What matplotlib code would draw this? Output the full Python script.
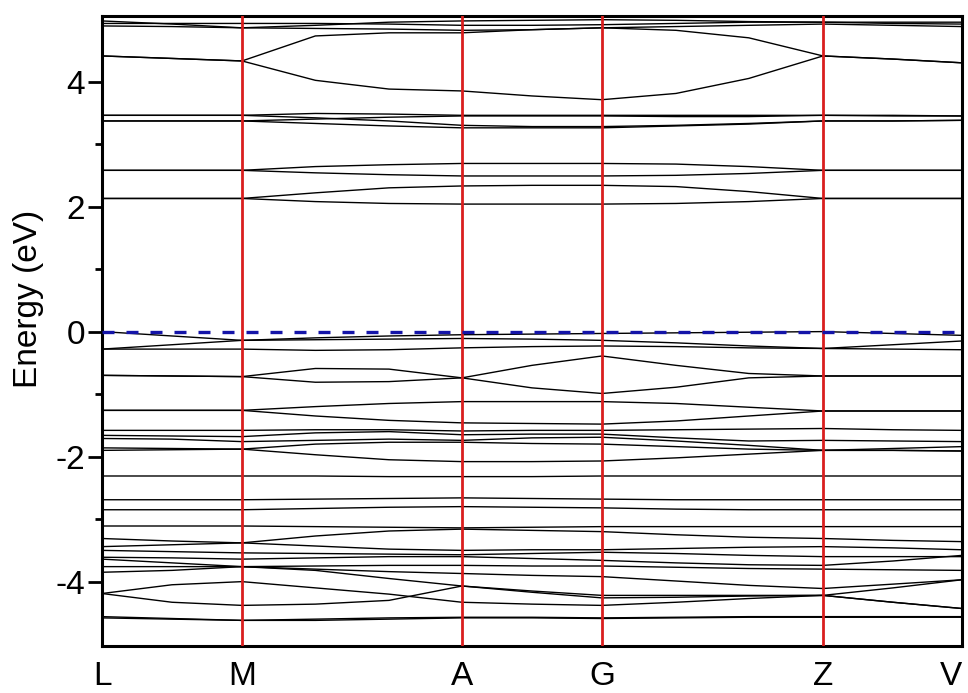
import matplotlib
matplotlib.use("Agg")
import matplotlib.pyplot as plt
import numpy as np

plt.rcParams['font.family'] = ['Liberation Sans', 'DejaVu Sans']

# high-symmetry points and k-path sample positions
hs_labels = ["L", "M", "A", "G", "Z", "V"]
hs_k = [0.0, 1.0, 2.571, 3.571, 5.15, 6.143]
k_path = [0.0, 0.5, 1.0, 1.524, 2.05, 2.571, 3.071, 3.571, 4.10, 4.62, 5.15, 5.65, 6.143]

# band energies (eV) at k_path points
bands = [
    [4.97, 4.92, 4.86, 4.90, 4.95, 4.97, 4.98, 4.99, 4.98, 4.96, 4.95, 4.95, 4.95],
    [4.93, 4.93, 4.93, 4.93, 4.92, 4.90, 4.90, 4.91, 4.93, 4.95, 4.95, 4.93, 4.92],
    [4.89, 4.88, 4.86, 4.85, 4.84, 4.82, 4.83, 4.86, 4.88, 4.90, 4.92, 4.90, 4.88],
    [4.41, 4.37, 4.33, 4.73, 4.78, 4.78, 4.83, 4.86, 4.82, 4.70, 4.41, 4.36, 4.30],
    [4.41, 4.37, 4.33, 4.02, 3.88, 3.85, 3.77, 3.71, 3.81, 4.05, 4.41, 4.36, 4.30],
    [3.46, 3.46, 3.46, 3.49, 3.48, 3.46, 3.46, 3.46, 3.46, 3.46, 3.46, 3.45, 3.45],
    [3.46, 3.46, 3.46, 3.42, 3.37, 3.30, 3.28, 3.28, 3.30, 3.33, 3.37, 3.37, 3.38],
    [3.37, 3.37, 3.37, 3.40, 3.43, 3.45, 3.45, 3.45, 3.44, 3.44, 3.46, 3.46, 3.45],
    [3.37, 3.37, 3.37, 3.33, 3.29, 3.26, 3.26, 3.26, 3.29, 3.32, 3.37, 3.37, 3.38],
    [2.58, 2.58, 2.58, 2.64, 2.67, 2.69, 2.69, 2.69, 2.68, 2.64, 2.58, 2.58, 2.58],
    [2.58, 2.58, 2.58, 2.54, 2.51, 2.49, 2.49, 2.49, 2.50, 2.53, 2.58, 2.58, 2.58],
    [2.13, 2.13, 2.13, 2.22, 2.30, 2.33, 2.34, 2.34, 2.32, 2.24, 2.13, 2.13, 2.13],
    [2.13, 2.13, 2.13, 2.08, 2.05, 2.04, 2.04, 2.04, 2.05, 2.08, 2.13, 2.13, 2.13],
    [0.00, -0.07, -0.14, -0.10, -0.07, -0.05, -0.04, -0.03, -0.02, -0.01, 0.00, -0.03, -0.06],
    [-0.28, -0.21, -0.14, -0.13, -0.12, -0.11, -0.12, -0.14, -0.18, -0.23, -0.27, -0.21, -0.15],
    [-0.28, -0.28, -0.28, -0.30, -0.29, -0.26, -0.24, -0.23, -0.24, -0.26, -0.27, -0.28, -0.29],
    [-0.70, -0.71, -0.72, -0.59, -0.60, -0.74, -0.54, -0.39, -0.54, -0.67, -0.71, -0.71, -0.71],
    [-0.70, -0.71, -0.72, -0.81, -0.80, -0.74, -0.90, -0.99, -0.89, -0.74, -0.71, -0.71, -0.71],
    [-1.26, -1.26, -1.26, -1.20, -1.15, -1.12, -1.12, -1.12, -1.15, -1.21, -1.27, -1.27, -1.27],
    [-1.26, -1.26, -1.26, -1.35, -1.42, -1.46, -1.47, -1.48, -1.43, -1.35, -1.27, -1.27, -1.27],
    [-1.58, -1.58, -1.58, -1.57, -1.57, -1.59, -1.58, -1.58, -1.57, -1.56, -1.55, -1.57, -1.58],
    [-1.66, -1.67, -1.68, -1.62, -1.60, -1.65, -1.64, -1.64, -1.70, -1.75, -1.74, -1.75, -1.76],
    [-1.71, -1.72, -1.76, -1.74, -1.72, -1.74, -1.70, -1.69, -1.75, -1.82, -1.90, -1.87, -1.84],
    [-1.86, -1.87, -1.88, -1.80, -1.77, -1.77, -1.79, -1.80, -1.84, -1.88, -1.90, -1.90, -1.91],
    [-1.90, -1.89, -1.88, -1.97, -2.05, -2.08, -2.08, -2.07, -2.02, -1.96, -1.90, -1.90, -1.91],
    [-2.31, -2.31, -2.31, -2.31, -2.32, -2.32, -2.32, -2.31, -2.31, -2.31, -2.31, -2.31, -2.31],
    [-2.69, -2.69, -2.69, -2.68, -2.67, -2.66, -2.67, -2.68, -2.69, -2.69, -2.69, -2.69, -2.69],
    [-2.85, -2.85, -2.85, -2.83, -2.81, -2.80, -2.81, -2.82, -2.84, -2.85, -2.85, -2.85, -2.85],
    [-3.11, -3.11, -3.11, -3.12, -3.13, -3.14, -3.13, -3.12, -3.12, -3.12, -3.12, -3.12, -3.12],
    [-3.31, -3.35, -3.38, -3.27, -3.19, -3.16, -3.18, -3.20, -3.25, -3.29, -3.31, -3.34, -3.36],
    [-3.44, -3.41, -3.38, -3.43, -3.48, -3.50, -3.49, -3.49, -3.47, -3.45, -3.44, -3.46, -3.49],
    [-3.50, -3.52, -3.54, -3.55, -3.56, -3.57, -3.55, -3.53, -3.55, -3.58, -3.60, -3.60, -3.60],
    [-3.61, -3.62, -3.64, -3.62, -3.60, -3.60, -3.63, -3.66, -3.70, -3.73, -3.74, -3.67, -3.58],
    [-3.64, -3.70, -3.76, -3.75, -3.74, -3.74, -3.75, -3.75, -3.77, -3.79, -3.80, -3.81, -3.82],
    [-3.76, -3.76, -3.76, -3.80, -3.84, -3.87, -3.90, -3.92, -3.99, -4.06, -4.11, -4.04, -3.97],
    [-3.85, -3.82, -3.76, -3.82, -3.95, -4.07, -4.17, -4.26, -4.25, -4.23, -4.22, -4.33, -4.43],
    [-4.19, -4.05, -4.00, -4.10, -4.20, -4.33, -4.36, -4.38, -4.33, -4.27, -4.22, -4.33, -4.43],
    [-4.19, -4.33, -4.38, -4.36, -4.30, -4.07, -4.15, -4.22, -4.22, -4.22, -4.22, -4.10, -3.97],
    [-4.56, -4.59, -4.62, -4.60, -4.58, -4.57, -4.57, -4.58, -4.57, -4.56, -4.56, -4.56, -4.56],
    [-4.58, -4.60, -4.62, -4.62, -4.60, -4.58, -4.58, -4.59, -4.58, -4.57, -4.57, -4.57, -4.57],
]

fermi_level = 0.0
y_ticks = [-4, -2, 0, 2, 4]
y_minor = [-3, -1, 1, 3]

fig = plt.figure(figsize=(9.68, 6.93), dpi=100)
ax = fig.add_axes([0.1054, 0.0678, 0.8884, 0.9092])

for b in bands:
    ax.plot(k_path, b, color='black', lw=1.0, zorder=2)

for kx in hs_k[1:-1]:
    ax.axvline(kx, color='#d91e1e', lw=2.0, zorder=3)

ax.axhline(fermi_level, color='#1414a8', lw=2.4, ls=(0, (3.6, 3.6)), zorder=4)

ax.set_xlim(hs_k[0], hs_k[-1])
ax.set_ylim(-5.03, 5.05)
ax.set_xticks(hs_k)
ax.set_xticklabels(hs_labels, fontsize=24)
ax.get_xticklabels()[-1].set_horizontalalignment('right')
ax.tick_params(axis='x', length=0, pad=11)
ax.set_yticks(y_ticks)
ax.set_yticklabels([str(v) for v in y_ticks], fontsize=24)
ax.set_yticks(y_minor, minor=True)
ax.tick_params(axis='y', which='major', direction='out', length=10, width=2, pad=2)
ax.tick_params(axis='y', which='minor', direction='out', length=5, width=2)
ax.set_ylabel("Energy (eV)", fontsize=24)
ax.yaxis.set_label_coords(-0.067, 0.551)
for s in ax.spines.values():
    s.set_linewidth(2.2)

fig.savefig("out.png", dpi=100)
